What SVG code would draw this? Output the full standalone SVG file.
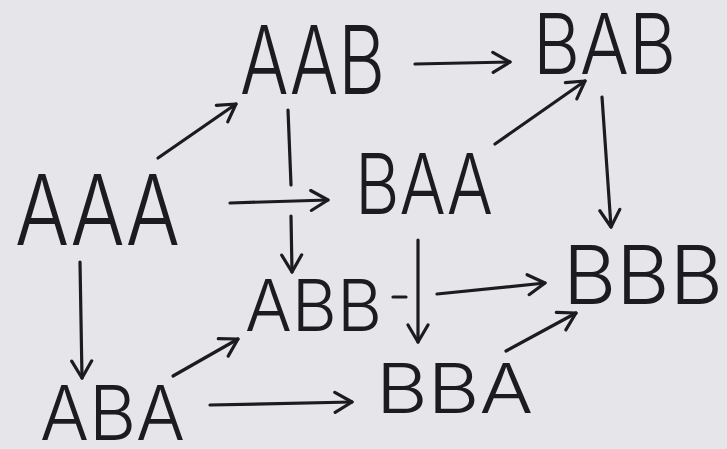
<svg xmlns="http://www.w3.org/2000/svg" width="727" height="449" viewBox="0 0 727 449">
  <defs>
    <style>
      .lbl { font-family: "Inter", "Open Sans", "Liberation Sans", sans-serif; font-weight: 300; fill: #1c1c1e; }
      .edge { fill: none; stroke: #1c1c1e; stroke-width: 3.2; stroke-linecap: round; stroke-linejoin: round; }
    </style>
    <marker id="head" viewBox="-20 -12 24 24" refX="0" refY="0" markerWidth="24" markerHeight="24" markerUnits="userSpaceOnUse" orient="auto">
      <path d="M -17 -10 L 0 0 L -17 10" fill="none" stroke="#1c1c1e" stroke-width="3.2" stroke-linecap="round" stroke-linejoin="round"/>
    </marker>
  </defs>

  <rect width="727" height="449" fill="#e6e5e9"/>

  <g id="connectors">
    <path class="edge" d="M 158 158 L 236 104" marker-end="url(#head)"/>
    <path class="edge" d="M 415 64 L 510 62" marker-end="url(#head)"/>
    <path class="edge" d="M 288 110 L 291 185"/>
    <path class="edge" d="M 291 216 L 292 272" marker-end="url(#head)"/>
    <path class="edge" d="M 230 203 L 328 200" marker-end="url(#head)"/>
    <path class="edge" d="M 495 144 L 585 81" marker-end="url(#head)"/>
    <path class="edge" d="M 602 97 L 611 227" marker-end="url(#head)"/>
    <path class="edge" d="M 418 240 L 418 342" marker-end="url(#head)"/>
    <path class="edge" d="M 393 297 L 406 297"/>
    <path class="edge" d="M 437 294 L 545 283" marker-end="url(#head)"/>
    <path class="edge" d="M 80 262 L 82 378" marker-end="url(#head)"/>
    <path class="edge" d="M 173 376 L 238 339" marker-end="url(#head)"/>
    <path class="edge" d="M 210 405 L 352 402" marker-end="url(#head)"/>
    <path class="edge" d="M 506 351 L 576 313" marker-end="url(#head)"/>
  </g>

  <g id="AAA"><text class="lbl" x="15" y="245" font-size="98" textLength="165" lengthAdjust="spacingAndGlyphs">AAA</text></g>
  <g id="AAB"><text class="lbl" x="240" y="94" font-size="95" textLength="145" lengthAdjust="spacingAndGlyphs">AAB</text></g>
  <g id="BAB"><text class="lbl" x="533" y="74" font-size="84" textLength="143" lengthAdjust="spacingAndGlyphs">BAB</text></g>
  <g id="BAA"><text class="lbl" x="355" y="214" font-size="84" textLength="138" lengthAdjust="spacingAndGlyphs">BAA</text></g>
  <g id="BBB"><text class="lbl" x="563" y="304" font-size="81" textLength="160" lengthAdjust="spacingAndGlyphs">BBB</text></g>
  <g id="ABB"><text class="lbl" x="245" y="331" font-size="71" textLength="137" lengthAdjust="spacingAndGlyphs">ABB</text></g>
  <g id="ABA"><text class="lbl" x="40" y="440" font-size="76" textLength="145" lengthAdjust="spacingAndGlyphs">ABA</text></g>
  <g id="BBA"><text class="lbl" x="376" y="413" font-size="68" textLength="157" lengthAdjust="spacingAndGlyphs">BBA</text></g>
</svg>
